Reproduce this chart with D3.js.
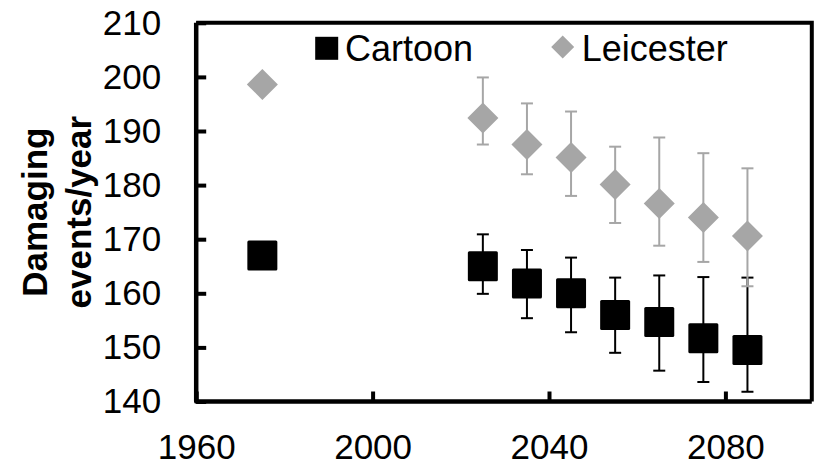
<!DOCTYPE html>
<html>
<head>
<meta charset="utf-8">
<script src="https://cdn.jsdelivr.net/npm/d3@7"></script>
<style>
  html, body { margin: 0; padding: 0; background: #fff; }
  svg { display: block; font-family: "Liberation Sans", Arial, sans-serif; }
</style>
</head>
<body>
<svg id="chart" width="814" height="467"></svg>
<script>
// ---- data ----
const years = [1975, 2025, 2035, 2045, 2055, 2065, 2075, 2085];
const cartoon = [167.0, 165.0, 161.8, 160.0, 156.0, 154.7, 151.7, 149.5];
const cartoonHi = [null, 170.9, 168.0, 166.6, 162.9, 163.3, 163.0, 162.9];
const cartoonLo = [null, 159.9, 155.4, 152.8, 149.0, 145.7, 143.6, 141.8];
const leicester = [198.6, 192.4, 187.5, 185.1, 180.1, 176.6, 174.0, 170.6];
const leicesterHi = [null, 199.9, 195.1, 193.6, 187.1, 188.8, 185.9, 183.1];
const leicesterLo = [null, 187.5, 182.0, 178.0, 173.0, 168.8, 165.8, 161.3];
const xTicks = [1960, 2000, 2040, 2080];
const yTicks = [140, 150, 160, 170, 180, 190, 200, 210];
const seriesNames = ["Cartoon", "Leicester"];
const yTitle = ["Damaging", "events/year"];

// ---- layout ----
const svg = d3.select("#chart");
const x = d3.scaleLinear().domain([1960, 2100]).range([196.2, 813.6]);
const y = d3.scaleLinear().domain([140, 210]).range([401.5, 22.8]);
const gray = "#a6a6a6";
const fontSize = 35;

// frame (top and right)
svg.append("path")
  .attr("d", `M${x(1960)},${y(210)}H${x(2100) - 1.8}V${y(140)}`)
  .attr("fill", "none").attr("stroke", "#000").attr("stroke-width", 4);

// axes
const xAxis = svg.append("g").attr("transform", `translate(0,${y(140)})`)
  .call(d3.axisBottom(x).tickValues(xTicks).tickFormat(d3.format("d")).tickSize(-10).tickPadding(33));
const yAxis = svg.append("g").attr("transform", `translate(${x(1960)},0)`)
  .call(d3.axisLeft(y).tickValues(yTicks).tickSize(-10).tickPadding(35));
[xAxis, yAxis].forEach(g => {
  g.select(".domain").remove();
  g.selectAll(".tick line").attr("stroke", "#000").attr("stroke-width", 4);
  g.selectAll(".tick text").attr("font-size", fontSize).attr("fill", "#000")
    .attr("font-family", '"Liberation Sans", Arial, sans-serif');
});
// axis lines (L-shape, rounded join)
svg.append("path")
  .attr("d", `M${x(1960)},${y(210)}V${y(140)}H${x(2100) - 1.8}`)
  .attr("fill", "none").attr("stroke", "#000").attr("stroke-width", 4.5)
  .attr("stroke-linejoin", "round");

// y title
const title = svg.append("text")
  .attr("transform", "rotate(-90)")
  .attr("text-anchor", "middle")
  .attr("font-weight", "bold").attr("font-size", fontSize).attr("fill", "#000");
title.append("tspan").attr("x", -(y(140) + y(210)) / 2).attr("y", 47).text(yTitle[0]);
title.append("tspan").attr("x", -(y(140) + y(210)) / 2).attr("y", 91).text(yTitle[1]);

// error bars helper
function errorBars(vals, his, los, color) {
  const g = svg.append("g").attr("stroke", color).attr("stroke-width", 2);
  years.forEach((yr, i) => {
    if (his[i] == null) return;
    const cx = x(yr);
    g.append("line").attr("x1", cx).attr("x2", cx).attr("y1", y(his[i])).attr("y2", y(los[i]));
    [his[i], los[i]].forEach(v => {
      g.append("line").attr("x1", cx - 6).attr("x2", cx + 6).attr("y1", y(v)).attr("y2", y(v));
    });
  });
}

// Cartoon
errorBars(cartoon, cartoonHi, cartoonLo, "#000");
const sq = 30;
svg.append("g").selectAll("rect").data(years).join("rect")
  .attr("x", (d) => x(d) - sq / 2)
  .attr("y", (d, i) => y(cartoon[i]) - sq / 2)
  .attr("width", sq).attr("height", sq).attr("rx", 1.5)
  .attr("fill", "#000");

// Leicester
errorBars(leicester, leicesterHi, leicesterLo, gray);
const dh = 15.5;
svg.append("g").selectAll("path").data(years).join("path")
  .attr("d", (d, i) => {
    const cx = x(d), cy = y(leicester[i]);
    return `M${cx},${cy - dh}L${cx + dh},${cy}L${cx},${cy + dh}L${cx - dh},${cy}Z`;
  })
  .attr("fill", gray);

// legend
const leg = svg.append("g");
leg.append("rect").attr("x", 326.7 - 11.5).attr("y", 48.3 - 11.5).attr("width", 23).attr("height", 23).attr("fill", "#000");
leg.append("text").attr("x", 345).attr("y", 61).attr("font-size", 36).attr("fill", "#000").text(seriesNames[0]);
leg.append("path").attr("d", "M562.7,35.5L574.2,47L562.7,58.5L551.2,47Z").attr("fill", gray);
leg.append("text").attr("x", 581.7).attr("y", 61).attr("font-size", 36).attr("fill", "#000").text(seriesNames[1]);
</script>
</body>
</html>
